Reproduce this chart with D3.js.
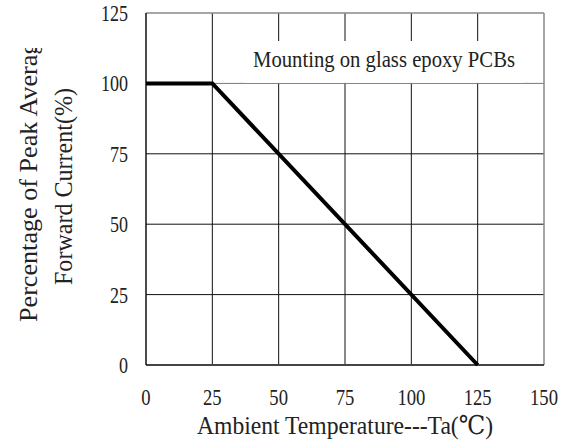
<!DOCTYPE html>
<html>
<head>
<meta charset="utf-8">
<script src="https://cdn.jsdelivr.net/npm/d3@7.9.0/dist/d3.min.js"></script>
<style>
  body { margin: 0; background: #fff; }
  text { font-family: "Liberation Serif", "DejaVu Serif", serif; fill: #222; }
</style>
</head>
<body>
<div id="chart"></div>
<script>
const xTicks = [0, 25, 50, 75, 100, 125, 150];
const yTicks = [0, 25, 50, 75, 100, 125];
const temps = [0, 25, 125];
const current = [100, 100, 0];
const note = "Mounting on glass epoxy PCBs";
const xTitle = "Ambient Temperature---Ta(\u2103)";
const yTitle = ["Percentage of Peak Average", "Forward Current(%)"];

const width = 565, height = 443;
const area = { left: 146, right: 544, top: 13, bottom: 365 };

const svg = d3.select('#chart').append('svg')
    .attr('width', width).attr('height', height);

const xScale = d3.scaleLinear().domain([0, 150]).range([area.left, area.right]);
const yScale = d3.scaleLinear().domain([0, 125]).range([area.bottom, area.top]);

// grid lines
xTicks.slice(1, -1).forEach(t =>
    svg.append("line")
        .attr("x1", xScale(t)).attr("x2", xScale(t))
        .attr("y1", area.top).attr("y2", area.bottom)
        .attr("stroke", "#111").attr("stroke-width", 1)
);
yTicks.slice(1, -1).forEach(t =>
    svg.append("line")
        .attr("x1", area.left).attr("x2", area.right)
        .attr("y1", yScale(t)).attr("y2", yScale(t))
        .attr("stroke", t === 100 ? "#777" : "#111").attr("stroke-width", 1)
);

// note box covering the grid
svg.append("rect")
    .attr("x", 245).attr("y", 41)
    .attr("width", 278).attr("height", yScale(100) - 41 - 0.5)
    .attr("fill", "#fff");
svg.append("text")
    .attr("x", 384).attr("y", 67)
    .attr("text-anchor", "middle")
    .attr("font-size", 23)
    .attr("textLength", 262).attr("lengthAdjust", "spacingAndGlyphs")
    .text(note);

// frame
svg.append("line").attr("x1", area.left).attr("x2", area.right).attr("y1", area.top).attr("y2", area.top)
    .attr("stroke", "#888").attr("stroke-width", 1.5);
svg.append("line").attr("x1", area.right).attr("x2", area.right).attr("y1", area.top).attr("y2", area.bottom)
    .attr("stroke", "#888").attr("stroke-width", 1.5);
svg.append("line").attr("x1", area.left).attr("x2", area.right).attr("y1", area.bottom).attr("y2", area.bottom)
    .attr("stroke", "#444").attr("stroke-width", 2);
svg.append("line").attr("x1", area.left).attr("x2", area.left).attr("y1", area.top).attr("y2", area.bottom)
    .attr("stroke", "#111").attr("stroke-width", 1.5);

// derating curve
const line = d3.line()
    .x((d, i) => xScale(temps[i]))
    .y(d => yScale(d));
svg.append("path")
    .datum(current)
    .attr("fill", "none")
    .attr("stroke", "#000")
    .attr("stroke-width", 4)
    .attr("d", line);

// tick labels
svg.selectAll(".xt").data(xTicks).join("text")
    .attr("x", d => xScale(d)).attr("y", 405)
    .attr("text-anchor", "middle").attr("font-size", 24)
    .attr("textLength", d => String(d).length * 9.3).attr("lengthAdjust", "spacingAndGlyphs")
    .text(d => d);
svg.selectAll(".yt").data(yTicks).join("text")
    .attr("x", 128).attr("y", d => yScale(d) + 8)
    .attr("text-anchor", "end").attr("font-size", 24)
    .attr("textLength", d => String(d).length * 9).attr("lengthAdjust", "spacingAndGlyphs")
    .text(d => d);

// axis titles
svg.append("text")
    .attr("x", (area.left + area.right) / 2).attr("y", 434)
    .attr("text-anchor", "middle").attr("font-size", 26)
    .attr("textLength", 296).attr("lengthAdjust", "spacingAndGlyphs")
    .text(xTitle);

svg.append("clipPath").attr("id", "yclip")
    .append("rect").attr("x", 0).attr("y", 48).attr("width", 140).attr("height", 350);
svg.append("g")
    .attr("clip-path", "url(#yclip)")
    .append("text")
    .attr("transform", "translate(37,322) rotate(-90)")
    .attr("font-size", 25)
    .attr("textLength", 292).attr("lengthAdjust", "spacingAndGlyphs")
    .text(yTitle[0]);
svg.append("text")
    .attr("transform", "translate(72,285) rotate(-90)")
    .attr("font-size", 25)
    .attr("textLength", 197).attr("lengthAdjust", "spacingAndGlyphs")
    .text(yTitle[1]);
</script>
</body>
</html>
